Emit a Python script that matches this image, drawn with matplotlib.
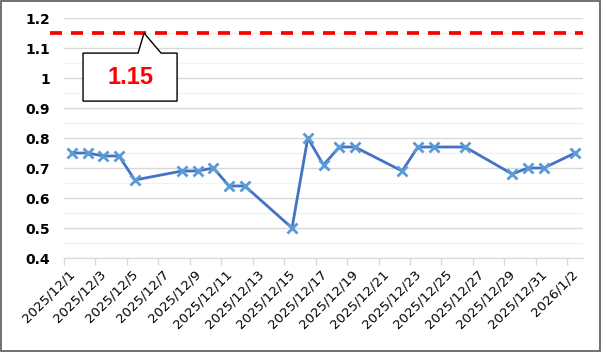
import matplotlib.pyplot as plt
import matplotlib.dates as mdates
from matplotlib.patches import Polygon, Rectangle
import pandas as pd

# data
dates = ["2025-12-01", "2025-12-02", "2025-12-03", "2025-12-04", "2025-12-05",
         "2025-12-08", "2025-12-09", "2025-12-10", "2025-12-11", "2025-12-12",
         "2025-12-15", "2025-12-16", "2025-12-17", "2025-12-18", "2025-12-19",
         "2025-12-22", "2025-12-23", "2025-12-24", "2025-12-26", "2025-12-29",
         "2025-12-30", "2025-12-31", "2026-01-02"]
values = [0.75, 0.75, 0.74, 0.74, 0.66,
          0.69, 0.69, 0.70, 0.64, 0.64,
          0.50, 0.80, 0.71, 0.77, 0.77,
          0.69, 0.77, 0.77, 0.77, 0.68,
          0.70, 0.70, 0.75]
limit = 1.15
limit_label = "1.15"
axis_start = "2025-12-01"
axis_end = "2026-01-03"

d = pd.to_datetime(dates)
x = mdates.date2num(d) + 0.5  # excel puts points in the middle of the day slot
x0 = mdates.date2num(pd.Timestamp(axis_start))
x1 = mdates.date2num(pd.Timestamp(axis_end))

fig = plt.figure(figsize=(6.02, 3.52), dpi=100)
fig.patches.append(Rectangle((0.002, 0.003), 0.995, 0.994, transform=fig.transFigure,
                             fill=False, edgecolor="#595959", linewidth=1.2))
ax = fig.add_axes([64 / 602, 94 / 352, 519 / 602, 240 / 352])

ax.set_ylim(0.4, 1.2)
ax.set_xlim(x0, x1)
ax.set_yticks([0.4 + 0.1 * i for i in range(9)])
ax.set_yticks([0.45 + 0.1 * i for i in range(8)], minor=True)
ax.set_yticklabels(["0.4", "0.5", "0.6", "0.7", "0.8", "0.9", "1", "1.1", "1.2"],
                   fontweight="bold", fontsize=10)
ax.grid(axis="y", which="major", color="#d9d9d9", linewidth=1)
ax.grid(axis="y", which="minor", color="#f2f2f2", linewidth=1)
ax.set_axisbelow(True)

tick_pos = [x0 + 2 * i for i in range(17)]
ax.set_xticks(tick_pos)
ax.set_xticklabels([])
ax.set_xticks([t + 0.85 for t in tick_pos], minor=True)
labels = []
for t in tick_pos:
    dt = mdates.num2date(t)
    labels.append(f"{dt.year}/{dt.month}/{dt.day}")
ax.set_xticklabels(labels, minor=True, rotation=45, ha="right", fontsize=9.5)
ax.tick_params(axis="x", which="major", length=5, color="#d9d9d9", width=1)
ax.tick_params(axis="x", which="minor", length=0, pad=7)
ax.tick_params(axis="y", which="both", length=0, pad=10)

for s in ["top", "right", "left"]:
    ax.spines[s].set_visible(False)
ax.spines["bottom"].set_color("#d9d9d9")

# limit line sticks out a little to the left of the plot area
ax.plot([x0 - 0.9, x1], [limit, limit], color="#ff0000", linewidth=2.7,
        linestyle=(0, (3.2, 2.4)), clip_on=False, zorder=3)

ax.plot(x, values, color="#4472c4", linewidth=2, marker="x", markersize=7,
        markeredgewidth=2, markeredgecolor="#5b9bd5", zorder=4)

# callout box
bx0, bx1 = x0 + 1.21, x0 + 7.19
by0, by1 = 0.923, 1.083
callout = Polygon([(bx0, by1), (x0 + 4.71, by1), (x0 + 5.09, limit), (x0 + 6.17, by1),
                   (bx1, by1), (bx1, by0), (bx0, by0)], closed=True,
                  facecolor="white", edgecolor="black", linewidth=1, zorder=5)
ax.add_patch(callout)
ax.text(x0 + 4.2, 1.003, limit_label, color="#ff0000", fontsize=17, fontweight="bold",
        family="Liberation Sans", ha="center", va="center", zorder=6)

fig.savefig("out.png", dpi=100)
